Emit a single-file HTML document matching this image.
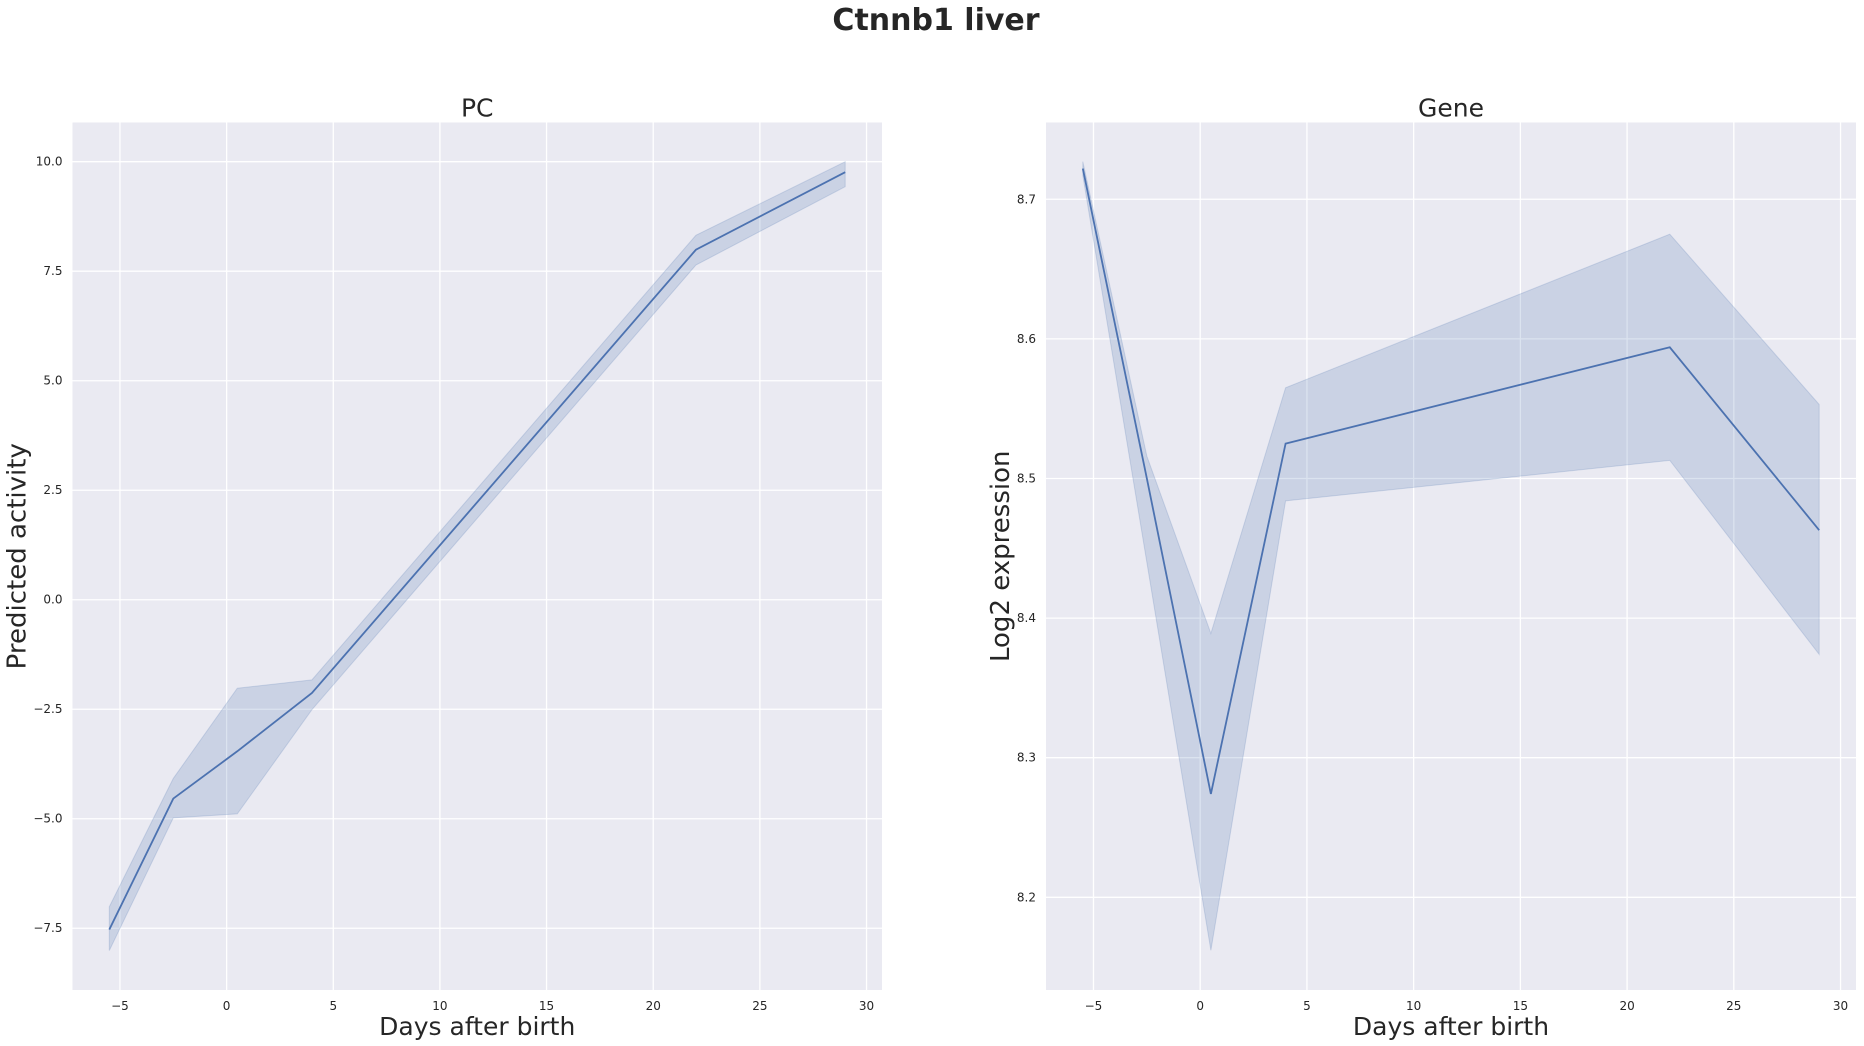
<!DOCTYPE html>
<html><head><meta charset="utf-8"><style>
html,body{margin:0;padding:0;background:#fff;}
svg{display:block;font-family:"DejaVu Sans","Liberation Sans",sans-serif;}
</style></head><body>
<svg id="fig" width="1864" height="1046">
<text x="936" y="30" text-anchor="middle" font-size="30" font-weight="bold" fill="#262626">Ctnnb1 liver</text>
</svg>
<script>
const days = [-5.5, -2.5, 0.5, 4, 22, 29];
const pcMean = [-7.53, -4.54, -3.46, -2.13, 7.99, 9.76];
const pcLo = [-8.01, -4.98, -4.89, -2.51, 7.64, 9.43];
const pcHi = [-7.01, -4.08, -2.02, -1.83, 8.32, 10.0];
const geneMean = [8.722, 8.50, 8.274, 8.525, 8.594, 8.463];
const geneLo = [8.717, 8.44, 8.162, 8.484, 8.513, 8.374];
const geneHi = [8.727, 8.516, 8.389, 8.565, 8.675, 8.553];
const xTicks = [-5, 0, 5, 10, 15, 20, 25, 30];
const pcYTicks = [-7.5, -5.0, -2.5, 0.0, 2.5, 5.0, 7.5, 10.0];
const geneYTicks = [8.2, 8.3, 8.4, 8.5, 8.6, 8.7];

const NS = "http://www.w3.org/2000/svg";
const svg = document.getElementById('fig');
function mk(tag, attrs, parent){const e=document.createElementNS(NS,tag);for(const k in attrs)e.setAttribute(k,attrs[k]);(parent||svg).appendChild(e);return e;}

function panel(name, left, right, top, bottom, xmin, xmax, ymin, ymax, yTicks, yFmt, mean, lo, hi, title, ylabel, ylabOff){
  const g = mk('g',{});
  
  
  const sx = v => left + (v-xmin)/(xmax-xmin)*(right-left);
  const sy = v => bottom - (v-ymin)/(ymax-ymin)*(bottom-top);
  const bg = mk('rect',{x:left,y:top,width:right-left,height:bottom-top,fill:'#eaeaf2'},g);
  
  
  xTicks.forEach(t=>{
    const l = mk('line',{x1:sx(t),x2:sx(t),y1:top,y2:bottom,stroke:'#fff','stroke-width':1.3},g);
    
    
    const tx = mk('text',{x:sx(t),y:bottom+20,'text-anchor':'middle','font-size':12,fill:'#262626'},g);
    
    
    tx.textContent = t<0 ? '\u2212'+Math.abs(t) : String(t);
  });
  yTicks.forEach(t=>{
    const l = mk('line',{x1:left,x2:right,y1:sy(t),y2:sy(t),stroke:'#fff','stroke-width':1.3},g);
    
    
    const tx = mk('text',{x:left-10,y:sy(t)+4,'text-anchor':'end','font-size':12,fill:'#262626'},g);
    
    
    const s = t.toFixed(yFmt);
    tx.textContent = t<0 ? '\u2212'+s.slice(1) : s;
  });
  let d = 'M'+days.map((x,i)=>sx(x)+','+sy(hi[i])).join('L');
  for(let i=days.length-1;i>=0;i--) d += 'L'+sx(days[i])+','+sy(lo[i]);
  const band = mk('path',{d:d+'Z',fill:'#4c72b0','fill-opacity':0.2,stroke:'#4c72b0','stroke-opacity':0.2},g);
  
  
  const line = mk('polyline',{points:days.map((x,i)=>sx(x)+','+sy(mean[i])).join(' '),fill:'none',stroke:'#4c72b0','stroke-width':1.8},g);
  
  
  const tt = mk('text',{x:(left+right)/2,y:top-6,'text-anchor':'middle','font-size':25,fill:'#262626'},g);
  
  
  tt.textContent = title;
  const xl = mk('text',{x:(left+right)/2,y:bottom+45,'text-anchor':'middle','font-size':25,fill:'#262626'},g);
  
  
  xl.textContent = 'Days after birth';
  const cy = (top+bottom)/2;
  const yl = mk('text',{x:0,y:0,'text-anchor':'middle','font-size':26,fill:'#262626',transform:'translate('+(left-ylabOff)+','+cy+') rotate(-90)'},g);
  
  
  yl.textContent = ylabel;
}
panel('pc', 72.5, 882, 122.5, 990, -7.225, 30.725, -8.91, 10.895, pcYTicks, 1, pcMean, pcLo, pcHi, 'PC', 'Predicted activity', 47);
panel('gene', 1046, 1856, 122.5, 990, -7.225, 30.725, 8.1336, 8.755, geneYTicks, 1, geneMean, geneLo, geneHi, 'Gene', 'Log2 expression', 37);
</script>
</body></html>
